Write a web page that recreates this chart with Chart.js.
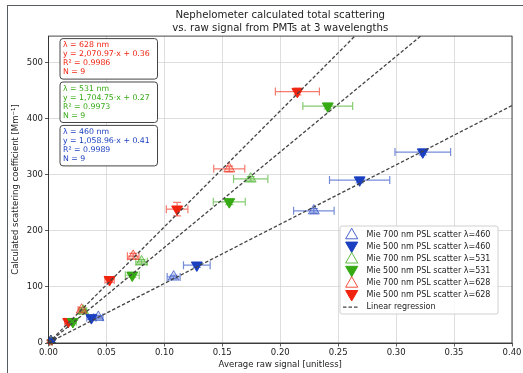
<!DOCTYPE html>
<html lang="en">
<head>
<meta charset="UTF-8">
<title>Nephelometer scattering</title>
<script src="https://cdn.jsdelivr.net/npm/chart.js@4.4.1/dist/chart.umd.min.js"></script>
<style>
  body { margin: 0; background: #fff; }
  #wrap { position: relative; width: 523px; height: 373px; overflow: hidden; }
  #frame {
    position: absolute; left: 7px; top: 5px; width: 600px; height: 400px;
    border-left: 1.5px solid #555d63; border-top: 1.5px solid #555d63;
    pointer-events: none;
  }
</style>
</head>
<body>
<div id="wrap">
  <canvas id="myChart" width="523" height="373"></canvas>
  <div id="frame"></div>
</div>
<script>
// ---- data ----
const xTicks = [0, 0.05, 0.10, 0.15, 0.20, 0.25, 0.30, 0.35, 0.40];
const xTickLabels = ['0.00', '0.05', '0.10', '0.15', '0.20', '0.25', '0.30', '0.35', '0.40'];
const yTicks = [0, 100, 200, 300, 400, 500];

// lambda = 460 nm
const x460_700 = [0.002, 0.043, 0.108, 0.229];
const y460_700 = [3, 46, 118, 236];
const xe460_700 = [0.001, 0.004, 0.0056, 0.0175];
const ye460_700 = [2, 3, 3, 4];
const x460_500 = [0.002, 0.037, 0.128, 0.2685, 0.323];
const y460_500 = [3, 45, 139, 291, 341];
const xe460_500 = [0.001, 0.004, 0.0115, 0.026, 0.024];
const ye460_500 = [2, 3, 4, 5, 5];

// lambda = 531 nm
const x531_700 = [0.002, 0.030, 0.0803, 0.1745];
const y531_700 = [3, 57, 145, 293];
const xe531_700 = [0.001, 0.003, 0.005, 0.0148];
const ye531_700 = [2, 3, 4, 4];
const x531_500 = [0.002, 0.021, 0.0723, 0.156, 0.241];
const y531_500 = [3, 38, 121, 252, 423];
const xe531_500 = [0.001, 0.003, 0.006, 0.0138, 0.0215];
const ye531_500 = [2, 3, 4, 5, 5];

// lambda = 628 nm
const x628_700 = [0.002, 0.0286, 0.0731, 0.156];
const y628_700 = [3, 59, 155, 311];
const xe628_700 = [0.001, 0.003, 0.005, 0.0134];
const ye628_700 = [2, 4, 5, 5];
const x628_500 = [0.002, 0.017, 0.0527, 0.111, 0.2148];
const y628_500 = [3, 38, 113, 239, 449];
const xe628_500 = [0.001, 0.003, 0.004, 0.0093, 0.019];
const ye628_500 = [2, 4, 5, 12, 6];

// regression results (slope, intercept) as printed in the boxes
const wavelengths = [628, 531, 460];
const slopes = [2070.97, 1704.75, 1058.96];
const intercepts = [0.36, 0.27, 0.41];
const r2 = ['0.9986', '0.9973', '0.9989'];
const nPts = [9, 9, 9];
const slopeText = ['2,070.97', '1,704.75', '1,058.96'];

const BLUE = '#1a3fc0';
const GREEN = '#35aa14';
const RED = '#f0230f';

function rgba(hex, a) {
  const n = parseInt(hex.slice(1), 16);
  return 'rgba(' + (n >> 16) + ',' + ((n >> 8) & 255) + ',' + (n & 255) + ',' + a + ')';
}

function pts(xs, ys) {
  return xs.map((x, i) => ({ x: x, y: ys[i] }));
}

function markerSet(label, xs, ys, xe, ye, color, open) {
  return {
    type: 'scatter',
    label: label,
    data: pts(xs, ys),
    errX: xe,
    errY: ye,
    errColor: rgba(color, 0.6),
    open: open,
    baseColor: color,
    pointStyle: 'triangle',
    pointRotation: open ? 0 : 180,
    pointRadius: 6.3,
    pointHoverRadius: 6.3,
    borderWidth: 1,
    borderColor: open ? rgba(color, 0.65) : color,
    backgroundColor: open ? rgba(color, 0.18) : color,
    order: 1
  };
}

const datasets = [
  markerSet('Mie 700 nm PSL scatter λ=460', x460_700, y460_700, xe460_700, ye460_700, BLUE, true),
  markerSet('Mie 500 nm PSL scatter λ=460', x460_500, y460_500, xe460_500, ye460_500, BLUE, false),
  markerSet('Mie 700 nm PSL scatter λ=531', x531_700, y531_700, xe531_700, ye531_700, GREEN, true),
  markerSet('Mie 500 nm PSL scatter λ=531', x531_500, y531_500, xe531_500, ye531_500, GREEN, false),
  markerSet('Mie 700 nm PSL scatter λ=628', x628_700, y628_700, xe628_700, ye628_700, RED, true),
  markerSet('Mie 500 nm PSL scatter λ=628', x628_500, y628_500, xe628_500, ye628_500, RED, false)
];

slopes.forEach((m, i) => {
  datasets.push({
    type: 'line',
    label: i === 0 ? 'Linear regression' : '',
    isFit: true,
    data: [{ x: 0, y: intercepts[i] }, { x: 0.4, y: m * 0.4 + intercepts[i] }],
    borderColor: '#444',
    borderWidth: 1.3,
    borderDash: [3.5, 2],
    pointRadius: 0,
    fill: false,
    order: 0
  });
});

// error bars, drawn under the markers
const errorBars = {
  id: 'errorBars',
  beforeDatasetsDraw(chart) {
    const ctx = chart.ctx, xs = chart.scales.x, ys = chart.scales.y;
    ctx.save();
    chart.data.datasets.forEach(ds => {
      if (!ds.errX) return;
      ctx.strokeStyle = ds.errColor;
      ctx.lineWidth = 1.2;
      ds.data.forEach((p, i) => {
        const px = xs.getPixelForValue(p.x), py = ys.getPixelForValue(p.y);
        const x0 = xs.getPixelForValue(p.x - ds.errX[i]), x1 = xs.getPixelForValue(p.x + ds.errX[i]);
        const y0 = ys.getPixelForValue(p.y - ds.errY[i]), y1 = ys.getPixelForValue(p.y + ds.errY[i]);
        ctx.beginPath();
        ctx.moveTo(x0, py); ctx.lineTo(x1, py);
        ctx.moveTo(x0, py - 4); ctx.lineTo(x0, py + 4);
        ctx.moveTo(x1, py - 4); ctx.lineTo(x1, py + 4);
        ctx.moveTo(px, y0); ctx.lineTo(px, y1);
        ctx.moveTo(px - 4, y0); ctx.lineTo(px + 4, y0);
        ctx.moveTo(px - 4, y1); ctx.lineTo(px + 4, y1);
        ctx.stroke();
      });
    });
    ctx.restore();
  }
};

function triangle(ctx, x, y, r, rot) {
  let rad = rot * Math.PI / 180;
  ctx.beginPath();
  ctx.moveTo(x + Math.sin(rad) * r, y - Math.cos(rad) * r);
  rad += 2 * Math.PI / 3;
  ctx.lineTo(x + Math.sin(rad) * r, y - Math.cos(rad) * r);
  rad += 2 * Math.PI / 3;
  ctx.lineTo(x + Math.sin(rad) * r, y - Math.cos(rad) * r);
  ctx.closePath();
}

function roundBox(ctx, x, y, w, h, r) {
  ctx.beginPath();
  ctx.moveTo(x + r, y);
  ctx.arcTo(x + w, y, x + w, y + h, r);
  ctx.arcTo(x + w, y + h, x, y + h, r);
  ctx.arcTo(x, y + h, x, y, r);
  ctx.arcTo(x, y, x + w, y, r);
  ctx.closePath();
}

// frame, fit boxes and legend on top
const overlay = {
  id: 'overlay',
  afterDraw(chart) {
    const ctx = chart.ctx, a = chart.chartArea;
    ctx.save();
    // axes frame
    ctx.strokeStyle = '#333';
    ctx.lineWidth = 0.9;
    ctx.strokeRect(a.left, a.top, a.right - a.left, a.bottom - a.top);

    // regression text boxes
    const boxColors = [RED, GREEN, BLUE];
    ctx.font = "7.8px 'DejaVu Sans'";
    ctx.textBaseline = 'middle';
    ctx.textAlign = 'left';
    wavelengths.forEach((wl, i) => {
      const bx = a.left + 11.5, by = a.top + 2.5 + i * 43.4;
      roundBox(ctx, bx, by, 97.5, 40.5, 3);
      ctx.fillStyle = '#fff';
      ctx.fill();
      ctx.strokeStyle = '#444';
      ctx.lineWidth = 1;
      ctx.stroke();
      ctx.fillStyle = boxColors[i];
      const lines = ['λ = ' + wl + ' nm',
        'y = ' + slopeText[i] + '·x + ' + intercepts[i].toFixed(2),
        'R² = ' + r2[i],
        'N = ' + nPts[i]];
      lines.forEach((t, j) => ctx.fillText(t, bx + 3, by + 6.8 + j * 9));
    });

    // legend
    const lx = 340, ly = 226, lw = 158, lh = 88;
    roundBox(ctx, lx, ly, lw, lh, 2);
    ctx.fillStyle = 'rgba(255,255,255,0.85)';
    ctx.fill();
    ctx.strokeStyle = '#d0d0d0';
    ctx.lineWidth = 1;
    ctx.stroke();
    ctx.font = "8px 'DejaVu Sans'";
    let row = 0;
    chart.data.datasets.forEach(ds => {
      if (!ds.label) return;
      const ry = ly + 8.5 + row * 12.1;
      const mx = lx + 11.7;
      if (ds.isFit) {
        ctx.strokeStyle = '#444';
        ctx.lineWidth = 1.3;
        ctx.setLineDash([3.5, 2]);
        ctx.beginPath();
        ctx.moveTo(lx + 3, ry); ctx.lineTo(lx + 19, ry);
        ctx.stroke();
        ctx.setLineDash([]);
      } else {
        triangle(ctx, mx, ds.open ? ry + 0.8 : ry - 1, 7, ds.open ? 0 : 180);
        ctx.fillStyle = ds.open ? '#fff' : ds.baseColor;
        ctx.fill();
        ctx.strokeStyle = ds.open ? rgba(ds.baseColor, 0.8) : ds.baseColor;
        ctx.lineWidth = 1;
        ctx.stroke();
      }
      ctx.fillStyle = '#222';
      ctx.fillText(ds.label, lx + 26.5, ry);
      row++;
    });
    ctx.restore();
  }
};

Chart.defaults.font.family = "'DejaVu Sans', sans-serif";
Chart.defaults.color = '#222';

new Chart('myChart', {
  type: 'scatter',
  data: { datasets: datasets },
  plugins: [errorBars, overlay],
  options: {
    responsive: false,
    animation: false,
    events: [],
    layout: { padding: { left: 8, right: 11, top: 0, bottom: 0 } },
    plugins: {
      legend: { display: false },
      tooltip: { enabled: false },
      title: {
        display: true,
        fullSize: false,
        text: ['Nephelometer calculated total scattering', 'vs. raw signal from PMTs at 3 wavelengths'],
        color: '#222',
        font: { size: 10.2, weight: 'normal', lineHeight: 1.24 },
        padding: { top: 9.5, bottom: 1.3 }
      }
    },
    scales: {
      x: {
        type: 'linear',
        min: 0,
        max: 0.4,
        afterBuildTicks: s => { s.ticks = xTicks.map(v => ({ value: v })); },
        afterFit: s => { s.height = 30; },
        ticks: {
          callback: (v, i) => xTickLabels[i],
          font: { size: 8.5 },
          color: '#222',
          padding: 1.5,
          maxRotation: 0
        },
        grid: { color: '#d6d6d6', lineWidth: 0.8, tickColor: '#333', tickLength: 3.5 },
        border: { color: '#333', width: 0.9 },
        title: {
          display: true,
          text: 'Average raw signal [unitless]',
          font: { size: 8.5 },
          color: '#222',
          padding: { top: 1, bottom: 3 }
        }
      },
      y: {
        type: 'linear',
        min: 0,
        max: 548,
        afterBuildTicks: s => { s.ticks = yTicks.map(v => ({ value: v })); },
        afterFit: s => { s.width = 40.5; },
        ticks: {
          font: { size: 8.5 },
          color: '#222',
          padding: 2
        },
        grid: { color: '#d6d6d6', lineWidth: 0.8, tickColor: '#333', tickLength: 3.5 },
        border: { color: '#333', width: 0.9 },
        title: {
          display: true,
          text: 'Calculated scattering coefficient [Mm⁻¹]',
          font: { size: 8.5 },
          color: '#222',
          padding: { top: 3, bottom: 2 }
        }
      }
    }
  }
});
</script>
</body>
</html>
